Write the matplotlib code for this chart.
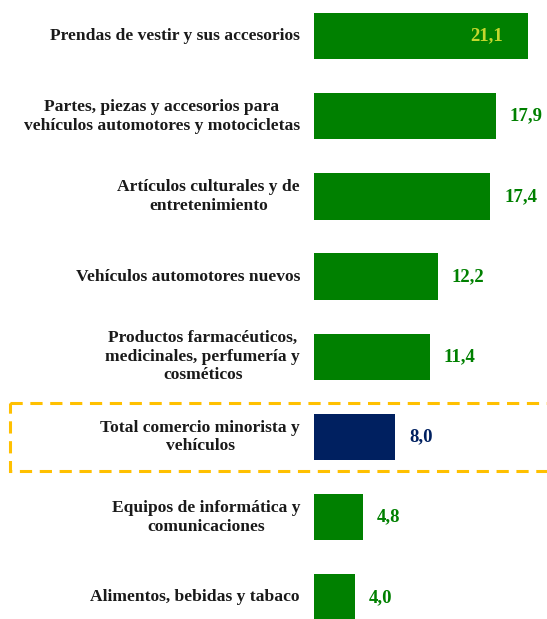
import matplotlib
matplotlib.use("Agg")
import matplotlib.pyplot as plt
from matplotlib.patches import Rectangle

categories = [
    "Prendas de vestir y sus accesorios",
    "Partes, piezas y accesorios para\nvehículos automotores y motocicletas",
    "Artículos culturales y de\nentretenimiento",
    "Vehículos automotores nuevos",
    "Productos farmacéuticos,\nmedicinales, perfumería y\ncosméticos",
    "Total comercio minorista y\nvehículos",
    "Equipos de informática y\ncomunicaciones",
    "Alimentos, bebidas y tabaco",
]
values = [21.1, 17.9, 17.4, 12.2, 11.4, 8.0, 4.8, 4.0]
labels = ["21,1", "17,9", "17,4", "12,2", "11,4", "8,0", "4,8", "4,0"]

GREEN = "#008000"
NAVY = "#002060"
colors = [NAVY if c.startswith("Total") else GREEN for c in categories]

W, H = 547, 619
fig = plt.figure(figsize=(W / 100, H / 100), dpi=100)
ax = fig.add_axes([0, 0, 1, 1])

px_unit = 10.14
x0 = 314
ax.set_xlim(-x0 / px_unit, (W - x0) / px_unit)
spacing = 80.2
top_c = 36
ax.set_ylim((H - top_c) / spacing, -top_c / spacing)
ax.axis("off")

font = dict(family="Liberation Serif", weight="bold")
ypos = list(range(len(values)))
ax.barh(ypos, values, height=0.58, color=colors)

for i, (v, lab, cat, col) in enumerate(zip(values, labels, categories, colors)):
    ax.text(-14 / px_unit, i, cat, ha="right", va="center", multialignment="center",
            fontsize=12.6, color="#1a1a1a", linespacing=1.22, **font)
    if i == 0:
        ax.text(v - 4.1, i, lab, ha="center", va="center", fontsize=13.5,
                color="#C4D82E", **font)
    else:
        ax.text(v + 1.4, i, lab, ha="left", va="center", fontsize=13.5,
                color=col, **font)

# dashed highlight box around total
ti = categories.index("Total comercio minorista y\nvehículos")
box = Rectangle((-30.0, ti - 0.43), 60, 0.86, fill=False, edgecolor="#FFC000",
                linewidth=2.2, linestyle=(0, (4, 2.5)), clip_on=True)
ax.add_patch(box)

fig.savefig("out.png", dpi=100)
